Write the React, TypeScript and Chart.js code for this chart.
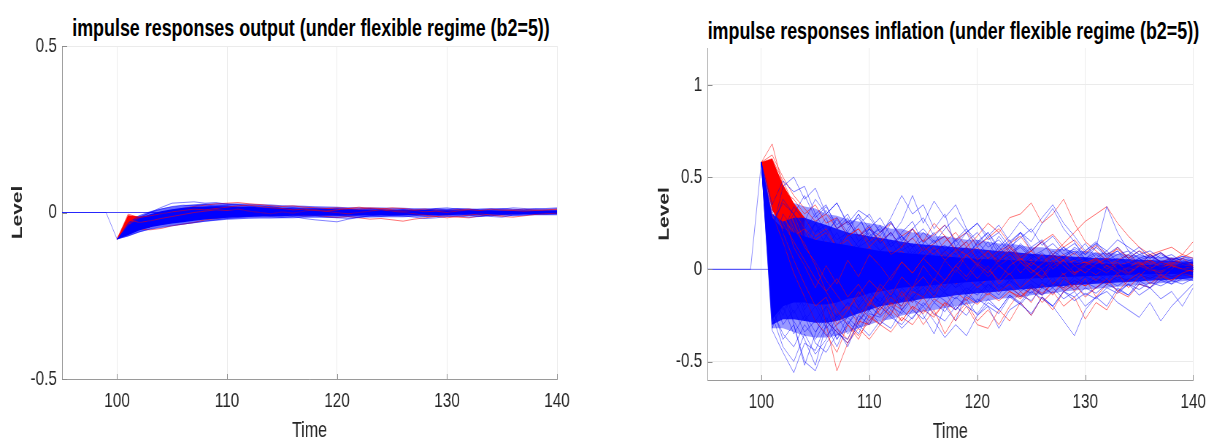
import React, { useEffect, useRef } from "react";
import { Chart, registerables } from "chart.js";

Chart.register(...registerables);

const SQUEEZE = 0.73;
const FONT = "'Liberation Sans', Arial, Helvetica, sans-serif";

// ---------- axes ----------
const TIME = [100, 101, 102, 103, 104, 105, 106, 107, 108, 109, 110, 111, 112, 113, 114, 115, 116, 117, 118, 119, 120, 121, 122, 123, 124, 125, 126, 127, 128, 129, 130, 131, 132, 133, 134, 135, 136, 137, 138, 139, 140];
const PRE_TIME = [95, 99, 100];
const ZERO_TIME = [95, 140];
const ZERO_VALUES = [0, 0];
const X_TICKS = [100, 110, 120, 130, 140];
const OUTPUT_Y_TICKS = [-0.5, 0, 0.5];
const INFLATION_Y_TICKS = [-0.5, 0, 0.5, 1];
const OUTPUT_TITLE = "impulse responses output (under flexible regime (b2=5))";
const INFLATION_TITLE = "impulse responses inflation (under flexible regime (b2=5))";

// ---------- output panel ----------
const OUTPUT_PRE = [0, 0, -0.08];
const OUT_RED_WEDGE_TIME = [100, 101, 102, 103];
const OUT_RED_WEDGE_HI = [-0.08, -0.008, -0.012, -0.009];
const OUT_RED_WEDGE_LO = [-0.08, -0.045, -0.05, -0.046];
const OUT_BLUE_OUTER_HI = [-0.08, -0.03, -0.008, 0.004, 0.012, 0.018, 0.022, 0.025, 0.027, 0.028, 0.028, 0.027, 0.026, 0.025, 0.024, 0.022, 0.021, 0.02, 0.019, 0.018, 0.017, 0.016, 0.016, 0.015, 0.015, 0.014, 0.014, 0.013, 0.013, 0.013, 0.012, 0.012, 0.012, 0.011, 0.011, 0.011, 0.01, 0.01, 0.01, 0.01, 0.01];
const OUT_BLUE_OUTER_LO = [-0.08, -0.072, -0.06, -0.05, -0.044, -0.04, -0.036, -0.032, -0.028, -0.025, -0.022, -0.02, -0.019, -0.018, -0.018, -0.017, -0.017, -0.016, -0.016, -0.016, -0.016, -0.015, -0.015, -0.015, -0.014, -0.014, -0.014, -0.013, -0.013, -0.013, -0.012, -0.012, -0.011, -0.011, -0.01, -0.01, -0.009, -0.009, -0.008, -0.008, -0.008];
const OUT_BLUE_CORE_HI = [-0.08, -0.04, -0.018, -0.005, 0.004, 0.01, 0.014, 0.017, 0.018, 0.019, 0.019, 0.018, 0.017, 0.016, 0.015, 0.014, 0.013, 0.012, 0.012, 0.011, 0.01, 0.01, 0.009, 0.009, 0.009, 0.008, 0.008, 0.008, 0.008, 0.007, 0.007, 0.007, 0.007, 0.007, 0.006, 0.006, 0.006, 0.006, 0.006, 0.006, 0.006];
const OUT_BLUE_CORE_LO = [-0.08, -0.068, -0.054, -0.044, -0.038, -0.033, -0.029, -0.025, -0.021, -0.018, -0.016, -0.014, -0.013, -0.012, -0.011, -0.011, -0.01, -0.01, -0.01, -0.01, -0.01, -0.01, -0.009, -0.009, -0.009, -0.009, -0.008, -0.008, -0.008, -0.008, -0.008, -0.007, -0.007, -0.007, -0.006, -0.006, -0.006, -0.005, -0.005, -0.004, -0.004];

const OUT_B1 = [-0.08, -0.05, -0.02, 0.0, 0.015, 0.028, 0.03, 0.032, 0.028, 0.03, 0.025, 0.022, 0.018, 0.02, 0.015, 0.012, 0.015, 0.01, 0.012, 0.008, 0.01, 0.006, 0.01, 0.012, 0.008, 0.005, 0.008, 0.004, 0.006, 0.01, 0.008, 0.012, 0.01, 0.006, 0.008, 0.012, 0.01, 0.008, 0.012, 0.01, 0.012];
const OUT_B2 = [-0.08, -0.06, -0.045, -0.035, -0.025, -0.015, -0.01, -0.004, 0.0, -0.004, -0.002, -0.006, -0.01, -0.008, -0.012, -0.015, -0.012, -0.018, -0.022, -0.025, -0.028, -0.02, -0.015, -0.01, -0.006, -0.008, -0.004, -0.008, -0.012, -0.01, -0.006, -0.004, -0.008, -0.012, -0.01, -0.006, -0.004, -0.002, -0.005, -0.003, -0.002];
const OUT_B3 = [-0.08, -0.07, -0.058, -0.05, -0.045, -0.04, -0.035, -0.03, -0.026, -0.022, -0.018, -0.015, -0.012, -0.01, -0.008, -0.01, -0.006, -0.004, -0.008, -0.005, -0.002, 0.0, -0.004, -0.002, 0.002, -0.002, 0.0, 0.003, 0.0, -0.002, 0.001, 0.003, 0.0, -0.002, 0.0, 0.002, 0.0, -0.001, 0.001, 0.0, 0.0];
const OUT_B4 = [-0.08, -0.04, -0.015, 0.0, 0.01, 0.018, 0.022, 0.02, 0.024, 0.018, 0.02, 0.015, 0.01, 0.012, 0.008, 0.004, 0.006, 0.0, 0.004, 0.008, 0.012, 0.01, 0.006, 0.002, 0.005, 0.0, -0.004, 0.0, 0.006, 0.012, 0.014, 0.01, 0.004, -0.006, -0.012, -0.014, -0.008, -0.004, 0.0, 0.004, 0.006];
const OUT_B5 = [-0.08, -0.055, -0.03, -0.015, -0.005, 0.005, 0.01, 0.014, 0.012, 0.016, 0.01, 0.008, 0.004, 0.0, -0.004, 0.002, -0.002, 0.004, 0.0, -0.004, -0.008, -0.012, -0.008, -0.004, 0.0, 0.004, 0.008, 0.004, 0.0, -0.004, -0.002, 0.002, 0.006, 0.01, 0.012, 0.01, 0.014, 0.012, 0.01, 0.012, 0.014];
const OUT_B6 = [-0.08, -0.065, -0.04, -0.025, -0.012, -0.002, 0.006, 0.012, 0.016, 0.02, 0.022, 0.024, 0.02, 0.016, 0.018, 0.012, 0.008, 0.01, 0.004, 0.006, 0.002, 0.004, 0.0, -0.002, 0.002, -0.004, -0.002, -0.006, -0.004, 0.0, -0.002, 0.002, 0.0, 0.004, 0.006, 0.002, 0.004, 0.0, 0.002, 0.004, 0.002];
const OUT_B7 = [-0.08, -0.06, -0.05, -0.04, -0.032, -0.026, -0.022, -0.02, -0.016, -0.018, -0.014, -0.01, -0.012, -0.006, -0.008, -0.004, -0.008, -0.012, -0.01, -0.014, -0.016, -0.018, -0.014, -0.01, -0.012, -0.008, -0.01, -0.014, -0.018, -0.016, -0.012, -0.01, -0.014, -0.012, -0.008, -0.006, -0.01, -0.008, -0.004, -0.006, -0.004];
const OUT_R1 = [-0.08, -0.01, -0.02, -0.015, -0.005, 0.005, 0.012, 0.018, 0.022, 0.026, 0.028, 0.03, 0.026, 0.024, 0.02, 0.018, 0.02, 0.016, 0.014, 0.012, 0.01, 0.008, 0.006, 0.008, 0.004, 0.002, 0.0, 0.004, 0.006, 0.008, 0.006, 0.008, 0.01, 0.006, 0.004, 0.006, 0.008, 0.01, 0.008, 0.006, 0.008];
const OUT_R2 = [-0.08, -0.03, -0.05, -0.052, -0.048, -0.04, -0.035, -0.03, -0.022, -0.018, -0.012, -0.008, -0.005, -0.002, 0.0, -0.004, -0.006, -0.01, -0.008, -0.012, -0.015, -0.012, -0.016, -0.02, -0.018, -0.022, -0.026, -0.02, -0.016, -0.012, -0.01, -0.014, -0.016, -0.01, -0.006, -0.008, -0.004, -0.002, -0.004, 0.0, -0.002];
const OUT_R3 = [-0.08, -0.02, -0.03, -0.025, -0.018, -0.012, -0.006, 0.0, 0.004, 0.008, 0.006, 0.01, 0.004, 0.0, -0.004, 0.002, -0.002, 0.004, 0.008, 0.004, 0.0, -0.004, 0.0, 0.004, 0.008, 0.004, 0.0, -0.004, -0.008, -0.012, -0.016, -0.012, -0.008, -0.004, -0.008, -0.012, -0.014, -0.01, -0.006, -0.004, -0.002];
const OUT_R4 = [-0.08, -0.005, -0.015, -0.01, -0.004, 0.002, 0.006, 0.01, 0.008, 0.012, 0.016, 0.02, 0.022, 0.018, 0.014, 0.012, 0.008, 0.01, 0.006, 0.004, 0.008, 0.012, 0.01, 0.014, 0.012, 0.008, 0.004, 0.006, 0.002, 0.004, 0.0, 0.004, 0.008, 0.006, 0.01, 0.008, 0.006, 0.004, 0.006, 0.008, 0.01];
const OUT_R5 = [-0.08, -0.02, -0.035, -0.04, -0.036, -0.03, -0.024, -0.018, -0.014, -0.01, -0.006, -0.002, 0.002, 0.006, 0.004, 0.008, 0.006, 0.01, 0.008, 0.012, 0.014, 0.012, 0.016, 0.012, 0.01, 0.014, 0.012, 0.008, 0.01, 0.006, 0.004, 0.008, 0.006, 0.002, 0.004, 0.0, 0.002, 0.004, 0.002, 0.0, 0.002];

// ---------- inflation panel ----------
const INFLATION_PRE = [0, 0, 0.58];
const INF_RED_WEDGE_TIME = [100, 101, 102, 103, 104];
const INF_RED_WEDGE_HI = [0.58, 0.6, 0.46, 0.36, 0.28];
const INF_RED_WEDGE_LO = [0.58, 0.32, 0.22, 0.16, 0.12];
const INF_BLUE_FAINT_HI = [0.58, 0.3, 0.3, 0.36, 0.34, 0.33, 0.3, 0.29, 0.27, 0.26, 0.25, 0.24, 0.22, 0.22, 0.2, 0.2, 0.18, 0.18, 0.17, 0.16, 0.16, 0.15, 0.14, 0.14, 0.13, 0.12, 0.12, 0.11, 0.11, 0.1, 0.1, 0.09, 0.09, 0.085, 0.08, 0.075, 0.07, 0.07, 0.065, 0.06, 0.055];
const INF_BLUE_FAINT_LO = [0.58, -0.32, -0.32, -0.34, -0.36, -0.37, -0.37, -0.36, -0.34, -0.32, -0.3, -0.28, -0.27, -0.25, -0.24, -0.23, -0.22, -0.21, -0.2, -0.19, -0.18, -0.17, -0.16, -0.155, -0.15, -0.14, -0.135, -0.13, -0.12, -0.115, -0.11, -0.105, -0.1, -0.095, -0.09, -0.085, -0.08, -0.075, -0.07, -0.065, -0.06];
const INF_BLUE_OUTER_HI = [0.58, 0.3, 0.26, 0.28, 0.28, 0.26, 0.24, 0.22, 0.2, 0.19, 0.18, 0.17, 0.16, 0.15, 0.14, 0.135, 0.13, 0.125, 0.12, 0.115, 0.11, 0.105, 0.1, 0.095, 0.09, 0.085, 0.08, 0.076, 0.072, 0.068, 0.065, 0.062, 0.06, 0.057, 0.054, 0.052, 0.05, 0.048, 0.046, 0.043, 0.04];
const INF_BLUE_OUTER_LO = [0.58, -0.3, -0.27, -0.27, -0.28, -0.29, -0.29, -0.28, -0.26, -0.24, -0.22, -0.2, -0.19, -0.18, -0.17, -0.16, -0.155, -0.15, -0.14, -0.135, -0.13, -0.125, -0.12, -0.115, -0.11, -0.105, -0.1, -0.095, -0.09, -0.085, -0.082, -0.078, -0.075, -0.072, -0.068, -0.065, -0.062, -0.058, -0.055, -0.052, -0.048];
const INF_BLUE_CORE_HI = [0.58, 0.28, 0.22, 0.2, 0.18, 0.16, 0.15, 0.14, 0.13, 0.12, 0.11, 0.1, 0.095, 0.09, 0.085, 0.08, 0.075, 0.07, 0.065, 0.06, 0.058, 0.055, 0.052, 0.05, 0.048, 0.045, 0.042, 0.04, 0.038, 0.036, 0.034, 0.032, 0.03, 0.028, 0.026, 0.025, 0.024, 0.022, 0.021, 0.02, 0.018];
const INF_BLUE_CORE_LO = [0.58, -0.27, -0.2, -0.18, -0.18, -0.19, -0.19, -0.18, -0.16, -0.15, -0.13, -0.12, -0.11, -0.1, -0.095, -0.09, -0.085, -0.08, -0.075, -0.07, -0.066, -0.062, -0.058, -0.055, -0.052, -0.05, -0.047, -0.044, -0.042, -0.04, -0.038, -0.036, -0.034, -0.032, -0.03, -0.028, -0.027, -0.026, -0.025, -0.024, -0.022];

const INF_B1 = [0.58, -0.33, -0.45, -0.56, -0.4, -0.44, -0.3, -0.24, -0.3, -0.2, -0.12, -0.18, -0.1, -0.05, -0.12, -0.08, 0.02, -0.04, -0.1, -0.06, 0.0, 0.05, -0.02, -0.06, 0.01, 0.04, -0.03, 0.02, 0.06, 0.0, -0.04, 0.01, 0.03, -0.02, 0.0, 0.02, -0.01, 0.01, 0.03, 0.0, -0.01];
const INF_B2 = [0.58, 0.2, 0.45, 0.5, 0.38, 0.44, 0.3, 0.36, 0.24, 0.28, 0.18, 0.22, 0.12, 0.18, 0.08, 0.14, 0.05, 0.1, 0.02, 0.06, -0.02, 0.04, 0.08, 0.02, -0.03, 0.03, 0.06, 0.0, 0.04, -0.02, 0.02, 0.05, 0.01, -0.02, 0.03, 0.0, 0.02, 0.04, 0.01, 0.02, 0.0];
const INF_B3 = [0.58, -0.28, -0.05, -0.3, -0.52, -0.35, -0.2, -0.38, -0.25, -0.12, -0.22, -0.08, -0.15, -0.02, 0.08, -0.04, -0.1, 0.04, -0.02, 0.06, -0.05, -0.12, -0.02, 0.05, -0.04, 0.02, -0.06, 0.01, -0.03, 0.04, 0.0, -0.03, 0.02, -0.02, 0.01, 0.03, -0.01, 0.0, -0.02, 0.01, 0.0];
const INF_B4 = [0.58, 0.1, 0.3, 0.22, 0.15, 0.25, 0.12, 0.2, 0.08, 0.15, 0.22, 0.18, 0.28, 0.4, 0.3, 0.35, 0.22, 0.3, 0.12, 0.2, 0.08, 0.15, 0.05, 0.1, 0.02, 0.08, -0.02, 0.05, 0.0, 0.04, 0.06, 0.02, 0.05, 0.0, 0.03, 0.06, 0.02, 0.04, 0.01, 0.03, 0.02];
const INF_B5 = [0.58, -0.1, 0.05, -0.08, 0.02, 0.1, -0.04, 0.06, -0.02, 0.08, 0.0, 0.05, -0.06, 0.02, 0.1, 0.04, -0.02, 0.06, 0.12, 0.05, 0.15, 0.08, 0.18, 0.1, 0.2, 0.15, 0.25, 0.33, 0.22, 0.15, 0.05, 0.12, 0.34, 0.2, 0.1, 0.02, 0.08, 0.04, -0.02, 0.03, 0.02];
const INF_B6 = [0.58, 0.35, 0.48, 0.42, 0.45, 0.3, 0.35, 0.22, 0.28, 0.15, 0.2, 0.1, 0.16, 0.05, 0.12, 0.02, 0.08, -0.04, 0.03, 0.06, -0.02, 0.04, 0.0, -0.05, 0.02, 0.06, 0.0, -0.03, 0.03, 0.01, -0.02, 0.02, 0.0, 0.03, -0.01, 0.02, 0.0, -0.02, 0.01, 0.02, 0.0];
const INF_B7 = [0.58, -0.2, -0.38, -0.3, -0.5, -0.55, -0.4, -0.32, -0.42, -0.28, -0.2, -0.25, -0.15, -0.2, -0.08, -0.14, -0.04, -0.1, 0.0, -0.06, 0.02, -0.04, 0.03, -0.02, 0.04, 0.0, -0.03, 0.02, -0.02, 0.03, 0.0, -0.02, 0.01, 0.03, 0.0, -0.02, 0.01, 0.0, 0.02, -0.01, 0.0];
const INF_B8 = [0.58, 0.05, -0.15, -0.05, -0.22, -0.12, -0.28, -0.18, -0.1, -0.2, -0.12, -0.18, -0.08, -0.22, -0.15, -0.25, -0.35, -0.2, -0.28, -0.12, -0.18, -0.08, -0.14, -0.05, -0.1, 0.0, -0.06, 0.02, -0.04, 0.03, -0.02, 0.01, -0.03, 0.02, -0.01, 0.0, 0.02, -0.02, 0.01, 0.0, -0.01];
const INF_B9 = [0.58, 0.15, 0.08, 0.22, 0.12, 0.25, 0.18, 0.28, 0.2, 0.3, 0.22, 0.28, 0.18, 0.26, 0.4, 0.25, 0.37, 0.28, 0.35, 0.22, 0.15, 0.2, 0.1, 0.16, 0.06, 0.12, 0.02, 0.08, 0.03, 0.06, 0.0, 0.04, 0.01, 0.03, 0.0, 0.02, 0.01, 0.03, 0.0, 0.02, 0.01];
const INF_B10 = [0.58, -0.05, 0.1, -0.08, 0.02, -0.12, -0.04, -0.15, -0.08, -0.18, -0.1, -0.2, -0.14, -0.22, -0.15, -0.1, -0.18, -0.12, -0.22, -0.16, -0.25, -0.2, -0.32, -0.22, -0.18, -0.25, -0.15, -0.2, -0.28, -0.36, -0.22, -0.15, -0.2, -0.1, -0.14, -0.06, -0.1, -0.04, -0.08, -0.02, -0.03];
const INF_B11 = [0.58, 0.12, -0.06, 0.04, -0.1, 0.02, -0.08, 0.06, -0.04, 0.08, 0.0, -0.06, 0.04, -0.08, 0.0, -0.1, -0.04, -0.12, -0.06, -0.14, -0.08, -0.04, -0.1, -0.06, -0.12, -0.08, -0.14, -0.1, -0.16, -0.12, -0.2, -0.15, -0.12, -0.18, -0.22, -0.26, -0.18, -0.28, -0.2, -0.14, -0.08];
const INF_B12 = [0.58, -0.15, -0.25, -0.12, -0.2, -0.08, -0.15, -0.05, -0.12, 0.0, -0.06, 0.02, -0.04, 0.05, -0.02, -0.08, -0.02, -0.1, -0.04, -0.12, -0.06, -0.1, -0.02, -0.08, 0.0, -0.06, -0.1, -0.04, -0.12, -0.08, -0.14, -0.1, -0.06, -0.12, -0.08, -0.14, -0.1, -0.16, -0.12, -0.2, -0.1];
const INF_B13 = [0.58, 0.25, 0.1, 0.18, 0.05, 0.12, 0.0, 0.08, -0.05, 0.04, 0.1, 0.02, 0.08, 0.14, 0.06, 0.12, 0.04, 0.1, 0.16, 0.08, 0.14, 0.2, 0.12, 0.18, 0.26, 0.2, 0.28, 0.35, 0.25, 0.18, 0.1, 0.14, 0.06, 0.1, 0.02, 0.06, 0.0, 0.04, 0.02, 0.03, 0.04];
const INF_B14 = [0.58, -0.25, -0.42, -0.5, -0.35, -0.46, -0.38, -0.25, -0.18, -0.28, -0.15, -0.08, -0.15, -0.05, -0.1, 0.0, -0.06, 0.04, -0.02, 0.05, 0.0, -0.05, 0.02, 0.06, 0.0, -0.04, 0.02, 0.04, -0.02, 0.0, 0.03, 0.0, -0.02, 0.01, 0.03, 0.0, -0.01, 0.02, 0.0, -0.01, 0.01];
const INF_B15 = [0.58, 0.28, 0.2, 0.34, 0.26, 0.38, 0.3, 0.36, 0.25, 0.32, 0.28, 0.2, 0.26, 0.15, 0.22, 0.1, 0.16, 0.06, 0.12, 0.02, 0.08, 0.0, 0.05, -0.03, 0.02, 0.06, 0.0, 0.04, -0.02, 0.02, 0.05, 0.01, 0.03, 0.0, 0.02, -0.01, 0.02, 0.0, 0.01, 0.03, 0.01];
const INF_B16 = [0.58, -0.3, -0.2, -0.35, -0.25, -0.4, -0.45, -0.35, -0.38, -0.25, -0.3, -0.18, -0.24, -0.12, -0.18, -0.08, -0.14, -0.04, -0.1, 0.0, -0.06, 0.02, -0.03, 0.04, 0.0, -0.04, 0.02, -0.02, 0.03, 0.0, -0.02, 0.01, 0.03, 0.0, -0.02, 0.01, 0.0, 0.02, -0.01, 0.0, 0.01];
const INF_B17 = [0.58, 0.02, 0.12, 0.05, 0.15, 0.08, 0.18, 0.1, 0.2, 0.12, 0.22, 0.15, 0.25, 0.18, 0.12, 0.2, 0.14, 0.22, 0.28, 0.2, 0.25, 0.18, 0.24, 0.15, 0.2, 0.12, 0.16, 0.08, 0.12, 0.05, 0.1, 0.15, 0.08, 0.12, 0.06, 0.1, 0.04, 0.08, 0.05, 0.07, 0.06];
const INF_B18 = [0.58, -0.1, -0.22, -0.15, -0.28, -0.2, -0.32, -0.25, -0.35, -0.28, -0.22, -0.3, -0.24, -0.32, -0.26, -0.2, -0.28, -0.37, -0.3, -0.36, -0.25, -0.18, -0.22, -0.14, -0.18, -0.1, -0.14, -0.06, -0.1, -0.04, -0.08, -0.02, -0.06, 0.0, -0.03, 0.01, -0.02, 0.0, -0.01, 0.01, 0.0];
const INF_B19 = [0.58, 0.18, -0.02, 0.1, -0.06, 0.05, -0.1, 0.02, -0.05, 0.06, -0.02, 0.04, -0.06, 0.02, 0.08, 0.0, -0.04, 0.05, 0.0, -0.03, 0.04, 0.0, -0.02, 0.03, 0.0, -0.03, 0.02, 0.0, 0.03, -0.01, 0.01, 0.02, 0.0, -0.02, 0.01, 0.02, 0.0, 0.01, -0.01, 0.0, 0.01];
const INF_B20 = [0.58, 0.08, 0.2, 0.1, 0.02, 0.14, 0.05, -0.04, 0.06, 0.12, 0.04, 0.1, 0.02, -0.04, 0.05, 0.1, 0.02, 0.08, -0.02, 0.04, 0.1, 0.05, 0.12, 0.06, 0.14, 0.08, 0.04, 0.1, 0.06, 0.12, 0.08, 0.14, 0.1, 0.16, 0.12, 0.08, 0.1, 0.06, 0.08, 0.04, 0.05];
const INF_B21 = [0.58, -0.32, -0.15, -0.28, -0.38, -0.52, -0.3, -0.42, -0.28, -0.35, -0.22, -0.15, -0.22, -0.1, -0.16, -0.06, -0.12, -0.02, -0.08, 0.02, -0.04, 0.0, 0.04, -0.02, 0.03, -0.03, 0.0, 0.03, -0.02, 0.01, 0.0, -0.02, 0.01, 0.0, 0.02, -0.01, 0.0, 0.01, -0.01, 0.0, 0.0];
const INF_B22 = [0.58, 0.22, 0.38, 0.3, 0.4, 0.28, 0.34, 0.24, 0.3, 0.18, 0.24, 0.14, 0.2, 0.1, 0.14, 0.05, 0.1, 0.02, 0.06, -0.02, 0.04, 0.0, 0.03, -0.02, 0.02, 0.0, 0.04, 0.01, -0.01, 0.02, 0.0, 0.01, 0.03, 0.0, 0.02, 0.0, -0.01, 0.01, 0.0, 0.02, 0.01];
const INF_B23 = [0.58, 0.15, 0.25, 0.18, 0.28, 0.2, 0.24, 0.16, 0.2, 0.12, 0.16, 0.1, 0.14, 0.18, 0.12, 0.16, 0.1, 0.13, 0.08, 0.12, 0.06, 0.1, 0.05, 0.08, 0.12, 0.06, 0.09, 0.04, 0.07, 0.1, 0.05, 0.08, 0.04, 0.06, 0.03, 0.05, 0.07, 0.04, 0.05, 0.03, 0.04];
const INF_B24 = [0.58, -0.2, -0.1, -0.24, -0.15, -0.28, -0.2, -0.26, -0.18, -0.22, -0.15, -0.2, -0.12, -0.17, -0.1, -0.15, -0.08, -0.13, -0.16, -0.1, -0.14, -0.08, -0.12, -0.06, -0.1, -0.13, -0.07, -0.1, -0.05, -0.08, -0.04, -0.07, -0.03, -0.06, -0.02, -0.05, -0.03, -0.04, -0.02, -0.03, -0.02];
const INF_B25 = [0.58, 0.0, 0.2, 0.3, 0.18, 0.25, 0.32, 0.22, 0.26, 0.18, 0.22, 0.14, 0.2, 0.12, 0.17, 0.22, 0.15, 0.18, 0.1, 0.15, 0.2, 0.12, 0.16, 0.09, 0.13, 0.07, 0.1, 0.14, 0.08, 0.11, 0.06, 0.09, 0.05, 0.08, 0.1, 0.06, 0.08, 0.04, 0.06, 0.05, 0.03];
const INF_B26 = [0.58, -0.12, -0.3, -0.22, -0.34, -0.28, -0.36, -0.3, -0.26, -0.32, -0.24, -0.26, -0.2, -0.24, -0.16, -0.2, -0.13, -0.17, -0.22, -0.14, -0.18, -0.12, -0.16, -0.1, -0.14, -0.17, -0.1, -0.13, -0.08, -0.11, -0.07, -0.1, -0.06, -0.09, -0.05, -0.07, -0.04, -0.06, -0.05, -0.03, -0.04];
const INF_B27 = [0.58, 0.32, 0.1, 0.25, 0.05, 0.2, 0.28, 0.12, 0.22, 0.3, 0.16, 0.24, 0.12, 0.2, 0.26, 0.14, 0.2, 0.1, 0.16, 0.22, 0.12, 0.18, 0.08, 0.14, 0.2, 0.1, 0.15, 0.06, 0.12, 0.08, 0.14, 0.06, 0.1, 0.04, 0.08, 0.12, 0.06, 0.09, 0.05, 0.07, 0.05];
const INF_B28 = [0.58, -0.22, -0.35, -0.42, -0.3, -0.38, -0.28, -0.34, -0.4, -0.3, -0.36, -0.28, -0.32, -0.22, -0.27, -0.18, -0.24, -0.28, -0.2, -0.25, -0.16, -0.2, -0.24, -0.15, -0.19, -0.12, -0.16, -0.2, -0.12, -0.15, -0.1, -0.13, -0.08, -0.11, -0.14, -0.08, -0.1, -0.06, -0.08, -0.05, -0.06];
const INF_B29 = [0.58, 0.25, 0.36, 0.3, 0.22, 0.3, 0.2, 0.27, 0.18, 0.24, 0.3, 0.2, 0.26, 0.16, 0.22, 0.28, 0.18, 0.24, 0.15, 0.2, 0.25, 0.16, 0.2, 0.12, 0.17, 0.22, 0.13, 0.18, 0.1, 0.14, 0.08, 0.12, 0.07, 0.1, 0.05, 0.08, 0.06, 0.09, 0.04, 0.06, 0.04];
const INF_B30 = [0.58, -0.05, -0.18, -0.1, -0.24, -0.34, -0.26, -0.38, -0.3, -0.22, -0.28, -0.2, -0.26, -0.3, -0.22, -0.27, -0.18, -0.23, -0.15, -0.2, -0.24, -0.16, -0.22, -0.14, -0.19, -0.24, -0.15, -0.2, -0.12, -0.17, -0.13, -0.16, -0.1, -0.13, -0.08, -0.11, -0.07, -0.09, -0.06, -0.08, -0.05];

const INF_R1 = [0.58, 0.68, 0.45, 0.3, 0.15, 0.05, -0.1, -0.25, -0.2, -0.3, -0.18, -0.12, -0.05, -0.15, -0.08, 0.02, -0.06, 0.04, -0.02, 0.05, 0.0, -0.04, 0.03, 0.08, 0.02, -0.03, 0.04, 0.0, -0.05, 0.02, 0.01, -0.02, 0.03, 0.0, -0.02, 0.02, 0.04, 0.0, 0.02, -0.01, 0.0];
const INF_R2 = [0.58, 0.5, 0.4, 0.25, 0.1, -0.05, -0.3, -0.55, -0.4, -0.28, -0.3, -0.2, -0.25, -0.12, -0.18, -0.08, -0.15, -0.05, 0.02, -0.06, 0.03, -0.02, 0.05, -0.03, 0.02, 0.06, 0.0, -0.04, 0.02, 0.05, 0.01, -0.02, 0.03, 0.01, -0.02, 0.0, 0.03, 0.01, -0.01, 0.02, 0.0];
const INF_R3 = [0.58, 0.4, 0.3, 0.18, 0.22, 0.1, 0.15, 0.05, 0.12, 0.02, 0.08, 0.0, 0.06, 0.1, 0.04, 0.12, 0.08, 0.15, 0.2, 0.12, 0.18, 0.25, 0.2, 0.28, 0.3, 0.36, 0.25, 0.3, 0.38, 0.25, 0.15, 0.1, 0.05, 0.12, 0.06, 0.02, 0.08, 0.04, 0.06, 0.03, 0.02];
const INF_R4 = [0.58, 0.55, 0.35, 0.2, 0.05, -0.1, -0.05, -0.18, -0.1, -0.22, -0.15, -0.25, -0.18, -0.28, -0.2, -0.3, -0.22, -0.35, -0.25, -0.18, -0.28, -0.22, -0.3, -0.2, -0.12, -0.18, -0.08, -0.14, -0.05, -0.1, -0.02, -0.06, 0.0, -0.04, 0.02, -0.02, 0.0, -0.03, 0.01, -0.01, 0.0];
const INF_R5 = [0.58, 0.45, 0.28, 0.2, 0.08, 0.12, 0.0, 0.06, -0.04, 0.02, -0.08, -0.02, 0.04, -0.05, 0.02, 0.08, 0.02, 0.1, 0.05, 0.12, 0.06, 0.02, 0.08, 0.12, 0.05, 0.1, 0.15, 0.08, 0.14, 0.2, 0.26, 0.3, 0.34, 0.25, 0.18, 0.12, 0.08, 0.1, 0.12, 0.08, 0.15];
const INF_R6 = [0.58, 0.35, 0.22, 0.1, -0.02, -0.12, -0.2, -0.32, -0.38, -0.25, -0.18, -0.22, -0.12, -0.05, -0.1, -0.02, 0.04, -0.02, -0.08, -0.04, -0.1, -0.05, -0.12, -0.08, -0.15, -0.1, -0.18, -0.12, -0.2, -0.15, -0.27, -0.18, -0.22, -0.12, -0.15, -0.08, -0.1, -0.04, -0.06, -0.02, -0.04];
const INF_R7 = [0.58, 0.6, 0.48, 0.35, 0.28, 0.18, 0.22, 0.12, 0.16, 0.08, 0.12, 0.05, 0.1, 0.02, 0.08, -0.02, 0.04, 0.08, 0.02, -0.04, 0.03, 0.06, 0.0, -0.05, 0.02, 0.05, -0.02, 0.03, -0.03, 0.02, 0.04, 0.0, -0.02, 0.02, 0.04, 0.01, -0.02, 0.02, 0.0, 0.03, 0.01];
const INF_R8 = [0.58, 0.3, 0.15, -0.02, -0.15, -0.28, -0.35, -0.45, -0.3, -0.38, -0.25, -0.3, -0.18, -0.22, -0.12, -0.15, -0.05, -0.1, 0.0, -0.06, 0.02, -0.04, 0.02, -0.03, 0.04, 0.0, -0.05, 0.02, 0.05, -0.02, 0.01, -0.03, 0.02, 0.0, -0.02, 0.03, 0.0, -0.01, 0.02, 0.0, -0.01];
const INF_R9 = [0.58, 0.52, 0.42, 0.38, 0.3, 0.35, 0.25, 0.28, 0.18, 0.22, 0.12, 0.18, 0.08, 0.12, 0.22, 0.15, 0.25, 0.18, 0.1, 0.15, 0.05, 0.1, 0.02, 0.06, -0.02, 0.04, 0.0, 0.05, -0.03, 0.02, 0.04, 0.01, -0.02, 0.03, 0.0, 0.02, -0.01, 0.01, 0.03, 0.0, 0.02];
const INF_R10 = [0.58, 0.42, 0.2, 0.05, -0.08, -0.2, -0.15, -0.3, -0.22, -0.12, -0.2, -0.08, -0.14, -0.04, -0.1, 0.02, -0.06, 0.05, -0.02, 0.08, 0.02, 0.1, 0.04, 0.12, 0.06, 0.02, 0.08, 0.0, 0.05, -0.02, 0.03, 0.06, 0.0, 0.04, -0.02, 0.02, 0.05, 0.01, 0.03, 0.06, 0.02];
const INF_R11 = [0.58, 0.48, 0.32, 0.12, 0.02, -0.1, 0.02, -0.08, 0.05, -0.04, 0.08, 0.02, -0.06, 0.04, -0.02, 0.06, 0.12, 0.05, 0.1, 0.02, -0.05, 0.02, -0.08, -0.02, -0.1, -0.05, 0.0, -0.08, -0.02, -0.12, -0.05, -0.15, -0.08, -0.02, -0.1, -0.04, 0.02, -0.05, 0.0, 0.06, 0.1];
const INF_R12 = [0.58, 0.38, 0.25, 0.15, 0.05, -0.05, -0.12, -0.05, -0.15, -0.08, -0.18, -0.1, -0.2, -0.12, -0.22, -0.15, -0.25, -0.18, -0.28, -0.2, -0.3, -0.32, -0.22, -0.28, -0.18, -0.25, -0.15, -0.22, -0.12, -0.08, -0.15, -0.1, -0.05, -0.12, -0.06, -0.02, -0.08, -0.03, -0.06, -0.02, 0.0];
const INF_R13 = [0.58, 0.56, 0.4, 0.26, 0.12, 0.04, -0.06, -0.14, -0.22, -0.14, -0.06, -0.12, -0.04, 0.04, -0.02, 0.06, 0.0, -0.06, 0.02, 0.08, 0.03, -0.02, 0.05, 0.1, 0.04, -0.02, 0.03, 0.07, 0.02, -0.03, 0.02, 0.05, 0.02, -0.02, 0.01, 0.04, 0.0, -0.02, 0.02, 0.0, -0.01];
const INF_R14 = [0.58, 0.45, 0.36, 0.22, 0.14, 0.02, -0.12, -0.22, -0.3, -0.36, -0.28, -0.22, -0.15, -0.2, -0.1, -0.04, -0.12, -0.06, 0.02, -0.04, 0.04, 0.0, -0.06, 0.02, 0.06, 0.0, -0.04, 0.04, 0.08, 0.02, -0.02, 0.03, 0.06, 0.0, -0.03, 0.02, 0.0, 0.04, 0.02, 0.0, 0.01];
const INF_R15 = [0.58, 0.58, 0.42, 0.3, 0.2, 0.12, 0.05, -0.05, -0.12, -0.2, -0.26, -0.3, -0.22, -0.28, -0.2, -0.24, -0.16, -0.2, -0.12, -0.17, -0.1, -0.14, -0.08, -0.12, -0.16, -0.1, -0.14, -0.07, -0.11, -0.06, -0.09, -0.05, -0.08, -0.04, -0.06, -0.03, -0.05, -0.02, -0.04, -0.02, -0.03];
const INF_R16 = [0.58, 0.52, 0.38, 0.32, 0.22, 0.16, 0.2, 0.12, 0.18, 0.22, 0.15, 0.2, 0.25, 0.18, 0.22, 0.15, 0.19, 0.24, 0.16, 0.2, 0.13, 0.17, 0.22, 0.14, 0.18, 0.1, 0.15, 0.19, 0.12, 0.16, 0.09, 0.13, 0.08, 0.11, 0.06, 0.1, 0.07, 0.09, 0.05, 0.08, 0.06];
const INF_R17 = [0.58, 0.4, 0.24, 0.08, -0.08, -0.18, -0.28, -0.34, -0.4, -0.32, -0.38, -0.3, -0.34, -0.26, -0.3, -0.22, -0.26, -0.18, -0.22, -0.15, -0.19, -0.13, -0.17, -0.12, -0.15, -0.09, -0.13, -0.08, -0.1, -0.06, -0.09, -0.05, -0.07, -0.04, -0.06, -0.03, -0.05, -0.02, -0.04, -0.02, -0.03];
const INF_R18 = [0.58, 0.62, 0.5, 0.4, 0.33, 0.26, 0.3, 0.22, 0.26, 0.18, 0.23, 0.15, 0.2, 0.12, 0.17, 0.1, 0.14, 0.18, 0.11, 0.08, 0.12, 0.06, 0.1, 0.13, 0.07, 0.1, 0.04, 0.08, 0.05, 0.09, 0.03, 0.06, 0.02, 0.05, 0.08, 0.03, 0.05, 0.02, 0.04, 0.01, 0.03];

// ---------- colours ----------
const BLUE = "rgb(0,0,255)";
const BLUE_LINE = "rgba(0,0,255,0.5)";
const BLUE_HALO = "rgba(0,0,255,0.85)";
const BLUE_FAINT = "rgba(0,0,255,0.4)";
const RED = "rgb(255,0,0)";
const RED_LINE = "rgba(255,0,0,0.55)";

type Vals = number[];
const pts = (vals: Vals, times: Vals = TIME) => vals.map((v, i) => ({ x: times[i], y: v }));
const lineDs = (vals: Vals, color: string, times: Vals = TIME) => ({
  data: pts(vals, times),
  borderColor: color,
  borderWidth: 1,
  pointRadius: 0,
  fill: false,
  tension: 0,
});
const bandDs = (hi: Vals, lo: Vals, color: string, times: Vals = TIME) => [
  { data: pts(hi, times), borderColor: "rgba(0,0,0,0)", borderWidth: 0, backgroundColor: color, pointRadius: 0, fill: "+1", tension: 0 },
  { data: pts(lo, times), borderColor: "rgba(0,0,0,0)", borderWidth: 0, pointRadius: 0, fill: false, tension: 0 },
];

const outputDatasets = () => [
  lineDs(ZERO_VALUES, "rgba(0,0,255,0.7)", ZERO_TIME),
  ...bandDs(OUT_RED_WEDGE_HI, OUT_RED_WEDGE_LO, RED, OUT_RED_WEDGE_TIME),
  ...bandDs(OUT_BLUE_OUTER_HI, OUT_BLUE_OUTER_LO, "rgba(0,0,255,0.6)"),
  lineDs(OUT_R1, RED_LINE),
  lineDs(OUT_R2, RED_LINE),
  lineDs(OUT_R5, RED_LINE),
  ...bandDs(OUT_BLUE_CORE_HI, OUT_BLUE_CORE_LO, BLUE),
  lineDs(OUT_B1, BLUE_LINE),
  lineDs(OUT_B2, BLUE_LINE),
  lineDs(OUT_R3, RED_LINE),
  lineDs(OUT_B3, BLUE_LINE),
  lineDs(OUT_B6, BLUE_LINE),
  lineDs(OUT_B4, BLUE_LINE),
  lineDs(OUT_R4, RED_LINE),
  lineDs(OUT_B5, BLUE_LINE),
  lineDs(OUT_B7, BLUE_LINE),
  lineDs(OUTPUT_PRE, "rgba(0,0,255,0.45)", PRE_TIME),
];

const inflationDatasets = () => [
  lineDs(ZERO_VALUES, "rgba(0,0,255,0.5)", ZERO_TIME),
  ...bandDs(INF_BLUE_FAINT_HI, INF_BLUE_FAINT_LO, BLUE_FAINT),
  ...bandDs(INF_RED_WEDGE_HI, INF_RED_WEDGE_LO, RED, INF_RED_WEDGE_TIME),
  lineDs(INF_R15, RED_LINE),
  lineDs(INF_R17, RED_LINE),
  ...bandDs(INF_BLUE_OUTER_HI, INF_BLUE_OUTER_LO, BLUE_HALO),
  lineDs(INF_R1, RED_LINE),
  lineDs(INF_R2, RED_LINE),
  lineDs(INF_R3, RED_LINE),
  lineDs(INF_R4, RED_LINE),
  lineDs(INF_R5, RED_LINE),
  lineDs(INF_R6, RED_LINE),
  lineDs(INF_R7, RED_LINE),
  lineDs(INF_R16, RED_LINE),
  lineDs(INF_R18, RED_LINE),
  ...bandDs(INF_BLUE_CORE_HI, INF_BLUE_CORE_LO, BLUE),
  lineDs(INF_B1, BLUE_LINE),
  lineDs(INF_B2, BLUE_LINE),
  lineDs(INF_B23, BLUE_LINE),
  lineDs(INF_B3, BLUE_LINE),
  lineDs(INF_R8, RED_LINE),
  lineDs(INF_B4, BLUE_LINE),
  lineDs(INF_B24, BLUE_LINE),
  lineDs(INF_B5, BLUE_LINE),
  lineDs(INF_B6, BLUE_LINE),
  lineDs(INF_B25, BLUE_LINE),
  lineDs(INF_R9, RED_LINE),
  lineDs(INF_B7, BLUE_LINE),
  lineDs(INF_B8, BLUE_LINE),
  lineDs(INF_B26, BLUE_LINE),
  lineDs(INF_B9, BLUE_LINE),
  lineDs(INF_R10, RED_LINE),
  lineDs(INF_B10, BLUE_LINE),
  lineDs(INF_B27, BLUE_LINE),
  lineDs(INF_B11, BLUE_LINE),
  lineDs(INF_R11, RED_LINE),
  lineDs(INF_B12, BLUE_LINE),
  lineDs(INF_B28, BLUE_LINE),
  lineDs(INF_B13, BLUE_LINE),
  lineDs(INF_R12, RED_LINE),
  lineDs(INF_B14, BLUE_LINE),
  lineDs(INF_B29, BLUE_LINE),
  lineDs(INF_B15, BLUE_LINE),
  lineDs(INF_R13, RED_LINE),
  lineDs(INF_B16, BLUE_LINE),
  lineDs(INF_B30, BLUE_LINE),
  lineDs(INF_B17, BLUE_LINE),
  lineDs(INF_R14, RED_LINE),
  lineDs(INF_B18, BLUE_LINE),
  lineDs(INF_B19, BLUE_LINE),
  lineDs(INF_B20, BLUE_LINE),
  lineDs(INF_B21, BLUE_LINE),
  lineDs(INF_B22, BLUE_LINE),
  lineDs(INFLATION_PRE, "rgba(0,0,255,0.45)", PRE_TIME),
];

const inwardTicks = {
  id: "inwardTicks",
  afterDraw(chart: any) {
    const { ctx, chartArea, scales } = chart;
    ctx.save();
    ctx.strokeStyle = "#8c8c8c";
    ctx.lineWidth = 1;
    ctx.beginPath();
    scales.x.ticks.forEach((t: any) => {
      const px = Math.round(scales.x.getPixelForValue(t.value)) + 0.5;
      ctx.moveTo(px, chartArea.bottom);
      ctx.lineTo(px, chartArea.bottom - 5);
    });
    scales.y.ticks.forEach((t: any) => {
      const py = Math.round(scales.y.getPixelForValue(t.value)) + 0.5;
      ctx.moveTo(chartArea.left, py);
      ctx.lineTo(chartArea.left + 7, py);
    });
    ctx.stroke();
    ctx.restore();
  },
};

type Spec = {
  left: number;
  width: number;
  padLeft: number;
  padRight: number;
  padTop: number;
  padBottom: number;
  yWidth: number;
  yMin: number;
  yMax: number;
  yTicks: number[];
  datasets: () => any[];
};

const CANVAS_H = 443;

function Panel({ spec }: { spec: Spec }) {
  const ref = useRef<HTMLCanvasElement | null>(null);
  useEffect(() => {
    if (!ref.current) return;
    const raw = spec.datasets();
    const n = raw.length;
    const datasets = raw.map((d, i) => ({ ...d, order: n - i }));
    const tickFont = { family: FONT, size: 21 };
    const timeFont = { family: FONT, size: 22, lineHeight: 1 };
    const levelFont = { family: FONT, size: 21, weight: "bold", lineHeight: 1 };
    const chart = new Chart(ref.current, {
      type: "line",
      data: { datasets },
      plugins: [inwardTicks],
      options: {
        animation: false,
        responsive: false,
        events: [],
        devicePixelRatio: 1,
        layout: { padding: { left: spec.padLeft, right: spec.padRight, top: spec.padTop, bottom: spec.padBottom } },
        plugins: { legend: { display: false }, tooltip: { enabled: false }, title: { display: false } },
        scales: {
          x: {
            type: "linear",
            min: 95,
            max: 140,
            afterBuildTicks: (s: any) => {
              s.ticks = X_TICKS.map((v) => ({ value: v }));
            },
            afterFit: (s: any) => {
              s.height = 63;
            },
            grid: { color: "#ebebeb", drawTicks: false, lineWidth: 1 },
            border: { color: "#9a9a9a", width: 1 },
            ticks: { font: tickFont, color: "#262626", padding: 10, maxRotation: 0, autoSkip: false, callback: (v: any) => String(v) },
            title: { display: true, text: "Time", font: timeFont, color: "#262626", padding: { top: 0, bottom: 0 } },
          },
          y: {
            type: "linear",
            min: spec.yMin,
            max: spec.yMax,
            afterBuildTicks: (s: any) => {
              s.ticks = spec.yTicks.map((v) => ({ value: v }));
            },
            afterFit: (s: any) => {
              s.width = spec.yWidth;
            },
            grid: { color: "#ebebeb", drawTicks: false, lineWidth: 1 },
            border: { color: "#9a9a9a", width: 1 },
            ticks: { font: tickFont, color: "#262626", padding: 7, autoSkip: false, callback: (v: any) => String(v) },
            title: { display: true, text: "Level", font: levelFont, color: "#262626", padding: { top: 4, bottom: 0 } },
          },
        },
      } as any,
    });
    return () => chart.destroy();
  }, [spec]);
  return (
    <canvas
      ref={ref}
      width={spec.width}
      height={CANVAS_H}
      style={{ position: "absolute", left: spec.left, top: 0, width: spec.width, height: CANVAS_H, display: "block" }}
    />
  );
}

const OUTPUT_SPEC: Spec = {
  left: 0,
  width: 822,
  padLeft: 10,
  padRight: 59,
  padTop: 46,
  padBottom: 1,
  yWidth: 75,
  yMin: -0.5,
  yMax: 0.5,
  yTicks: OUTPUT_Y_TICKS,
  datasets: outputDatasets,
};

const INFLATION_SPEC: Spec = {
  left: 822,
  width: 840,
  padLeft: 74,
  padRight: 18,
  padTop: 48,
  padBottom: 0,
  yWidth: 73,
  yMin: -0.6,
  yMax: 1.2,
  yTicks: INFLATION_Y_TICKS,
  datasets: inflationDatasets,
};

const titleStyle = (centerX: number, top: number): React.CSSProperties => ({
  position: "absolute",
  left: centerX - 600,
  width: 1200,
  top,
  textAlign: "center",
  fontFamily: FONT,
  fontWeight: "bold",
  fontSize: 24.5,
  lineHeight: "24px",
  color: "#000",
  whiteSpace: "nowrap",
});

export default function App() {
  return (
    <div
      style={{
        position: "fixed",
        left: 0,
        top: 0,
        width: 1213 / SQUEEZE,
        height: 441,
        overflow: "hidden",
        background: "#fff",
        transform: `scaleX(${SQUEEZE})`,
        transformOrigin: "0 0",
      }}
    >
      <div style={titleStyle(426, 15.5)}>{OUTPUT_TITLE}</div>
      <div style={titleStyle(1306, 19)}>{INFLATION_TITLE}</div>
      <Panel spec={OUTPUT_SPEC} />
      <Panel spec={INFLATION_SPEC} />
    </div>
  );
}
